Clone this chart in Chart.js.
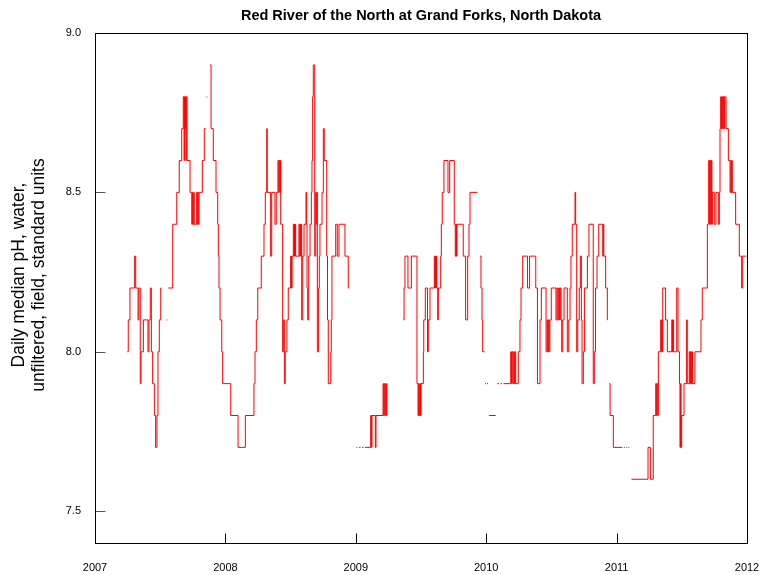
<!DOCTYPE html>
<html>
<head>
<meta charset="utf-8">
<script src="https://cdn.jsdelivr.net/npm/chart.js@4.4.1/dist/chart.umd.min.js"></script>
<style>
  html, body { margin: 0; padding: 0; background: #fff; }
</style>
</head>
<body>
<canvas id="chart" width="760" height="575"></canvas>
<script>
const chartTitle = "Red River of the North at Grand Forks, North Dakota";
const yTitle = ["Daily median pH, water,", "unfiltered, field, standard units"];
const xTickValues = [2007, 2008, 2009, 2010, 2011, 2012];
const yTickValues = [7.5, 8.0, 8.5, 9.0];

// daily median pH; each point starts a step, null = missing days
const years = [
  2007.248, 2007.255, 2007.268, 2007.304, 2007.312, 2007.330, 2007.337, 2007.347, 2007.353, 2007.371,
  2007.406, 2007.414, 2007.424, 2007.432, 2007.442, 2007.455, 2007.465, 2007.475, 2007.483, 2007.493,
  2007.504, 2007.511, 2007.530, 2007.548, 2007.555, 2007.558,
  2007.562, 2007.596, 2007.627, 2007.646, 2007.665, 2007.677, 2007.683, 2007.686, 2007.690, 2007.694,
  2007.698, 2007.700, 2007.706, 2007.729, 2007.742, 2007.747, 2007.751, 2007.757, 2007.761, 2007.780,
  2007.784, 2007.788, 2007.792, 2007.798, 2007.823, 2007.838, 2007.849, 2007.852, 2007.855, 2007.860,
  2007.870, 2007.882, 2007.890, 2007.907, 2007.928, 2007.941, 2007.946, 2007.951, 2007.959, 2007.972,
  2007.979, 2008.041, 2008.097, 2008.153, 2008.219, 2008.227, 2008.237, 2008.248, 2008.275, 2008.296,
  2008.306, 2008.317, 2008.321, 2008.347, 2008.355, 2008.380, 2008.390, 2008.403, 2008.409, 2008.413,
  2008.419, 2008.421, 2008.424, 2008.439, 2008.447, 2008.452, 2008.459, 2008.472, 2008.482, 2008.501,
  2008.504, 2008.506, 2008.508, 2008.511, 2008.521, 2008.526, 2008.530, 2008.534, 2008.536, 2008.539,
  2008.564, 2008.570, 2008.574, 2008.578, 2008.581, 2008.585, 2008.593, 2008.603, 2008.618, 2008.623,
  2008.626, 2008.631, 2008.639, 2008.649, 2008.659, 2008.664, 2008.669, 2008.674, 2008.685, 2008.693,
  2008.696, 2008.700, 2008.705, 2008.715, 2008.720, 2008.725, 2008.741, 2008.751, 2008.758, 2008.777,
  2008.783, 2008.789, 2008.808, 2008.812, 2008.817, 2008.846, 2008.858, 2008.871, 2008.917, 2008.942,
  2008.948, 2008.980, 2009.005, 2009.012, 2009.018, 2009.025, 2009.036, 2009.042, 2009.048, 2009.059,
  2009.065, 2009.071, 2009.114, 2009.120, 2009.124, 2009.150, 2009.155, 2009.209, 2009.214, 2009.219,
  2009.225, 2009.230, 2009.234, 2009.238, 2009.241, 2009.300, 2009.364, 2009.370, 2009.377, 2009.400,
  2009.426, 2009.469, 2009.477, 2009.482, 2009.487, 2009.492, 2009.496, 2009.500, 2009.518, 2009.521,
  2009.533, 2009.550, 2009.556, 2009.569, 2009.602, 2009.607, 2009.611, 2009.615, 2009.617, 2009.620,
  2009.628, 2009.633, 2009.651, 2009.656, 2009.663, 2009.676, 2009.707, 2009.720, 2009.755, 2009.763,
  2009.768, 2009.772, 2009.776, 2009.824, 2009.842, 2009.858, 2009.868, 2009.876, 2009.932, 2009.940,
  2009.952, 2009.960, 2009.968, 2009.973, 2009.988, 2009.989, 2009.991, 2009.998, 2010.002, 2010.006,
  2010.014, 2010.017, 2010.021, 2010.073, 2010.079, 2010.085, 2010.098, 2010.104, 2010.110, 2010.121,
  2010.127, 2010.133, 2010.188, 2010.194, 2010.199, 2010.205, 2010.211, 2010.216, 2010.221, 2010.226,
  2010.246, 2010.259, 2010.267, 2010.280, 2010.317, 2010.333, 2010.380, 2010.393, 2010.413, 2010.423,
  2010.459, 2010.467, 2010.472, 2010.477, 2010.482, 2010.488, 2010.499, 2010.535, 2010.543, 2010.550,
  2010.556, 2010.563, 2010.568, 2010.574, 2010.579, 2010.587, 2010.597, 2010.622, 2010.633, 2010.643,
  2010.650, 2010.660, 2010.681, 2010.686, 2010.694, 2010.702, 2010.714, 2010.722, 2010.730, 2010.735,
  2010.745, 2010.753, 2010.776, 2010.788, 2010.821, 2010.829, 2010.838, 2010.850, 2010.863, 2010.894,
  2010.898, 2010.902, 2010.916, 2010.929, 2010.932, 2010.938, 2010.944, 2010.950, 2010.975, 2011.044,
  2011.050, 2011.056, 2011.063, 2011.069, 2011.075, 2011.082, 2011.087, 2011.091, 2011.098, 2011.104,
  2011.114, 2011.241, 2011.259, 2011.281, 2011.300, 2011.305, 2011.310, 2011.316, 2011.320, 2011.338,
  2011.343, 2011.347, 2011.351, 2011.354, 2011.376, 2011.389, 2011.423, 2011.429, 2011.433, 2011.437,
  2011.461, 2011.471, 2011.482, 2011.486, 2011.490, 2011.494, 2011.499, 2011.517, 2011.537, 2011.542,
  2011.557, 2011.562, 2011.567, 2011.572, 2011.576, 2011.582, 2011.601, 2011.647, 2011.657, 2011.696,
  2011.706, 2011.713, 2011.717, 2011.722, 2011.727, 2011.731, 2011.734, 2011.749, 2011.762, 2011.780,
  2011.788, 2011.793, 2011.798, 2011.804, 2011.808, 2011.813, 2011.818, 2011.823, 2011.827, 2011.839,
  2011.857, 2011.870, 2011.876, 2011.880, 2011.883, 2011.887, 2011.913, 2011.941, 2011.959, 2011.967,
  2011.995
];
const ph = [
  8.0, 8.1, 8.2, 8.3, 8.2, 8.1, 8.2, 7.9, 8.0, 8.1,
  8.0, 8.1, 8.2, 8.0, 7.9, 7.8, 7.7, 7.8, 8.0, 8.1,
  8.2, 8.2, null, 8.1, 8.1, null,
  8.2, 8.4, 8.5, 8.6, 8.7, 8.8, 8.6, 8.8, 8.7, 8.8,
  8.6, 8.8, 8.6, 8.5, 8.4, 8.5, 8.4, 8.5, 8.4, 8.5,
  8.4, 8.5, 8.4, 8.5, 8.6, 8.7, 8.7, null, 8.8, 8.8,
  null, 8.9, 8.7, 8.6, 8.5, 8.4, 8.3, 8.2, 8.1, 8.0,
  7.9, 7.8, 7.7, 7.8, 7.9, 8.0, 8.1, 8.2, 8.3, 8.4,
  8.5, 8.7, 8.5, 8.3, 8.5, 8.4, 8.5, 8.6, 8.5, 8.6,
  8.5, 8.6, 8.4, 8.0, 8.1, 7.9, 8.0, 8.1, 8.2, 8.3,
  8.2, 8.3, 8.2, 8.3, 8.4, 8.3, 8.4, 8.3, 8.4, 8.3,
  8.4, 8.3, 8.4, 8.3, 8.4, 8.1, 8.3, 8.4, 8.5, 8.4,
  8.2, 8.1, 8.3, 8.4, 8.5, 8.6, 8.8, 8.9, 8.3, 8.5,
  8.4, 8.5, 8.0, 8.2, 8.3, 8.4, 8.5, 8.7, 8.6, 8.3,
  8.1, 7.9, 8.0, 8.1, 8.3, 8.4, 8.3, 8.4, 8.3, 8.2,
  8.2, null, 7.7, 7.7, null, 7.7, 7.7, null, 7.7, 7.7,
  null, 7.7, 7.8, 7.7, 7.8, 7.7, 7.8, 7.9, 7.8, 7.9,
  7.8, 7.9, 7.8, 7.9, 7.9, null, 8.1, 8.2, 8.3, 8.2,
  8.3, 7.9, 7.8, 7.9, 7.8, 7.9, 7.8, 7.9, 8.0, 8.1,
  8.2, 8.0, 8.1, 8.2, 8.3, 8.2, 8.3, 8.2, 8.3, 8.2,
  8.1, 8.2, 8.3, 8.4, 8.5, 8.6, 8.5, 8.6, 8.4, 8.3,
  8.4, 8.3, 8.4, 8.3, 8.1, 8.3, 8.4, 8.5, 8.5, null,
  8.3, 8.2, 8.1, 8.0, 8.0, null, 7.9, 7.9, null, 7.9,
  7.9, null, 7.8, 7.8, null, 7.9, 7.9, null, 7.9, 7.9,
  null, 7.9, 8.0, 7.9, 8.0, 7.9, 8.0, 7.9, 8.0, 7.9,
  8.0, 8.1, 8.2, 8.3, 8.2, 8.3, 8.2, 7.9, 8.1, 8.2,
  8.0, 8.1, 8.0, 8.1, 8.0, 8.1, 8.2, 8.1, 8.2, 8.1,
  8.2, 8.1, 8.2, 8.1, 8.0, 8.1, 8.2, 8.0, 8.1, 8.2,
  8.3, 8.4, 8.5, 8.4, 8.0, 8.1, 8.2, 8.3, 8.1, 7.9,
  8.0, 8.2, 8.3, 8.4, 7.9, 8.0, 8.2, 8.3, 8.4, 8.3,
  8.4, 8.3, 8.2, 8.1, 8.1, null, 7.9, 7.8, 7.7, 7.7,
  null, 7.7, 7.7, null, 7.7, 7.7, null, 7.7, 7.7, null,
  7.6, 7.7, 7.6, 7.8, 7.9, 7.8, 7.9, 7.8, 8.0, 8.1,
  8.0, 8.1, 8.0, 8.2, 8.1, 8.0, 8.1, 8.0, 8.1, 8.0,
  8.2, 8.0, 7.9, 7.7, 7.9, 7.7, 7.8, 7.9, 8.1, 7.9,
  8.0, 7.9, 8.0, 7.9, 8.0, 7.9, 8.0, 8.1, 8.2, 8.4,
  8.6, 8.4, 8.6, 8.4, 8.6, 8.4, 8.5, 8.4, 8.5, 8.4,
  8.5, 8.7, 8.8, 8.7, 8.8, 8.7, 8.8, 8.7, 8.8, 8.7,
  8.6, 8.5, 8.6, 8.5, 8.6, 8.5, 8.4, 8.3, 8.2, 8.3,
  8.3
];

if (years.length !== ph.length) console.error("length mismatch", years.length, ph.length);

const font = '"Liberation Sans", Arial, sans-serif';
Chart.defaults.font.family = font;

// box, inward ticks, title and the two-line y label
const frame = {
  id: 'frame',
  afterDatasetsDraw(chart) {
    const { ctx, chartArea: a, scales: { x, y } } = chart;
    const L = Math.round(a.left) + 0.5, R = Math.round(a.right) + 0.5;
    const T = Math.round(a.top) + 0.5, B = Math.round(a.bottom) + 0.5;
    ctx.save();
    ctx.lineWidth = 1;
    ctx.strokeStyle = '#555';
    yTickValues.forEach(v => {
      const py = Math.round(y.getPixelForValue(v)) + 0.5;
      ctx.beginPath(); ctx.moveTo(L, py); ctx.lineTo(L + 10, py); ctx.stroke();
    });
    ctx.strokeStyle = '#000';
    xTickValues.forEach(v => {
      const px = Math.round(x.getPixelForValue(v)) + 0.5;
      ctx.beginPath(); ctx.moveTo(px, B); ctx.lineTo(px, B - 10); ctx.stroke();
    });
    ctx.strokeRect(L, T, R - L, B - T);

    ctx.fillStyle = '#000';
    ctx.textAlign = 'center';
    ctx.textBaseline = 'middle';
    ctx.font = 'bold 14.5px ' + font;
    ctx.fillText(chartTitle, (a.left + a.right) / 2, 16);

    ctx.font = '17.5px ' + font;
    ctx.translate(0, 275);
    ctx.rotate(-Math.PI / 2);
    ctx.fillText(yTitle[0], 0, 19);
    ctx.fillText(yTitle[1], 0, 39);
    ctx.restore();
  }
};

new Chart(document.getElementById('chart'), {
  type: 'line',
  data: {
    datasets: [{
      data: years.map((t, i) => ({ x: t, y: ph[i] })),
      borderColor: '#ff0000',
      borderWidth: 1,
      pointRadius: 0,
      stepped: true,
      spanGaps: false,
      fill: false
    }]
  },
  options: {
    responsive: false,
    animation: false,
    layout: { padding: { top: 33, right: 13, left: 0, bottom: 0 } },
    plugins: {
      legend: { display: false },
      title: { display: false },
      tooltip: { enabled: false }
    },
    scales: {
      x: {
        type: 'linear',
        min: 2007,
        max: 2012,
        afterBuildTicks: s => { s.ticks = xTickValues.map(v => ({ value: v })); },
        afterFit: s => { s.height = 32; s.paddingLeft = 0; s.paddingRight = 0; },
        grid: { display: false, drawTicks: false },
        border: { display: false },
        ticks: {
          autoSkip: false,
          maxRotation: 0,
          padding: 18,
          color: '#000',
          font: { size: 11 },
          callback: v => String(v)
        }
      },
      y: {
        min: 7.4,
        max: 9.0,
        afterBuildTicks: s => { s.ticks = yTickValues.map(v => ({ value: v })); },
        afterFit: s => { s.width = 95; s.paddingTop = 0; s.paddingBottom = 0; },
        grid: { display: false, drawTicks: false },
        border: { display: false },
        ticks: {
          padding: 14,
          color: '#000',
          font: { size: 11 },
          callback: v => v.toFixed(1)
        }
      }
    }
  },
  plugins: [frame]
});
</script>
</body>
</html>
